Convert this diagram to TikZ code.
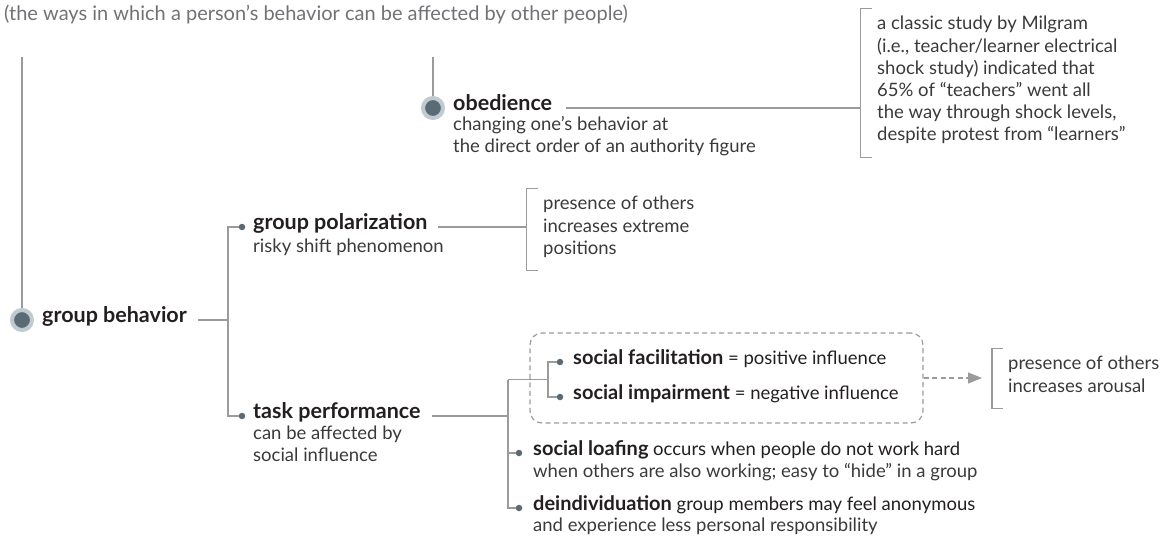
\documentclass[tikz,border=0pt]{standalone}
\usepackage{fontspec}
\setmainfont{Lato}
\usepackage{xcolor}
\usetikzlibrary{calc, positioning, arrows.meta}

\definecolor{lnk}{HTML}{9B9B9B}
\definecolor{ring}{HTML}{BFCAD1}
\definecolor{dotc}{HTML}{5B6B76}
\definecolor{ink}{HTML}{231F20}
\definecolor{body}{HTML}{3A3A3A}
\definecolor{ttlc}{HTML}{707276}

\newcommand{\topstrut}{\rule{0pt}{15pt}}
\newcommand{\botstrut}{\rule[-6pt]{0pt}{6pt}}
\newcommand{\bodyfont}{\fontsize{18.5}{22.2}\selectfont}
\newcommand{\headfont}{\fontsize{21.5}{24}\selectfont\bfseries}
\newcommand{\ttlfont}{\fontsize{20}{24}\selectfont}
\newcommand{\hb}[1]{{\fontsize{20}{22.2}\selectfont\bfseries #1}}

\begin{document}
\begin{tikzpicture}[
  x=1pt, y=-1pt,
  font=\bodyfont,
  title/.style={anchor=mid west, inner sep=0pt, text=ttlc, font=\ttlfont},
  head/.style={anchor=mid west, inner sep=0pt, text=ink, font=\headfont},
  item/.style={anchor=mid west, inner sep=0pt, text=ink},
  desc/.style={anchor=north west, inner sep=0pt, align=left, text=body},
  note/.style={anchor=north west, inner sep=0pt, align=left, text=body},
  link/.style={draw=lnk, line width=1.2pt},
  bigdot/.style={circle, draw=ring, line width=4pt, fill=dotc, minimum size=20pt, inner sep=0pt},
  smalldot/.style={circle, fill=dotc, minimum size=6.5pt, inner sep=0pt},
  grpbox/.style={draw=lnk, line width=1.2pt, dash pattern=on 5pt off 3.5pt, rounded corners=12pt,
    minimum width=393pt, minimum height=90pt, inner sep=0pt},
  darr/.style={draw=lnk, line width=1.2pt, dash pattern=on 5pt off 3.5pt,
    -{Triangle[length=14pt, width=11pt]}}
]
\useasboundingbox (0,0) rectangle (1169,547);

\node[title] (ttl) at (4,18) {(the ways in which a person’s behavior can be affected by other people)};

\node[head] (gb) at (42,320) {group behavior};
\node[head] (obd) at (453,108) {obedience};
\node[head] (gp) at (253,227) {group polarization};
\node[head] (tp) at (253,416) {task performance};
\node[item] (sf) at (573,362) {\hb{social facilitation} = positive influence};
\node[item] (si) at (573,397) {\hb{social impairment} = negative influence};
\node[item] (sl) at (533,453) {\hb{social loafing} occurs when people do not work hard};
\node[item] (di) at (533,508) {\hb{deindividuation} group members may feel anonymous};

\node[desc] (obdd) at ([yshift=-4.5pt]obd.base west) {\topstrut changing one’s behavior at\\the direct order of an authority figure};
\node[desc] (gpd) at ([yshift=-7.5pt]gp.base west) {\topstrut risky shift phenomenon};
\node[desc] (tpd) at ([yshift=-5.5pt]tp.base west) {\topstrut can be affected by\\social influence};
\node[desc] (sld) at ([yshift=-7pt]sl.base west) {\topstrut when others are also working; easy to “hide” in a group};
\node[desc] (did) at ([yshift=-6pt]di.base west) {\topstrut and experience less personal responsibility};

\node[note] (mil) at (877,14.7) {\topstrut a classic study by Milgram\\(i.e., teacher/learner electrical\\shock study) indicated that\\65\% of “teachers” went all\\the way through shock levels,\\despite protest from “learners”\botstrut};
\node[note] (pol) at (543,194.7) {\topstrut presence of others\\increases extreme\\positions\botstrut};
\node[note] (aro) at (1008,354.7) {\topstrut presence of others\\increases arousal\botstrut};

\node[bigdot] (gbdot) at ([xshift=-20pt]gb.mid west) {};
\node[bigdot] (obddot) at ([xshift=-20pt]obd.mid west) {};
\node[smalldot] (gpdot) at ([xshift=-11pt]gp.mid west) {};
\node[smalldot] (tpdot) at ([xshift=-11pt]tp.mid west) {};
\node[smalldot] (sfdot) at ([xshift=-13pt]sf.mid west) {};
\node[smalldot] (sidot) at ([xshift=-13pt]si.mid west) {};
\node[smalldot] (sldot) at ([xshift=-14pt]sl.mid west) {};
\node[smalldot] (didot) at ([xshift=-14pt]di.mid west) {};

\node[grpbox] (grp) at (726.5,378) {};

\coordinate (rt) at (22,57);
\coordinate (obt) at (433,57);
\coordinate (gbj) at ([xshift=-14pt]gpdot.center);
\coordinate (tpj) at ([xshift=-11pt]sldot.center);
\coordinate (sfj) at ([xshift=-12pt]sfdot.center);
\coordinate (fork) at ($(sfdot)!0.5!(sidot)$);
\coordinate (mil-b) at ([xshift=-16.5pt]mil.west);
\coordinate (pol-b) at ([xshift=-16.5pt]pol.west);
\coordinate (aro-b) at ([xshift=-16pt]aro.west);

\draw[link] ([xshift=-5pt,yshift=6pt]mil.north west) -| (mil-b) |- ([xshift=-5pt,yshift=-10pt]mil.south west);
\draw[link] ([xshift=-5pt,yshift=6pt]pol.north west) -| (pol-b) |- ([xshift=-5pt,yshift=-10pt]pol.south west);
\draw[link] ([xshift=-5pt,yshift=6pt]aro.north west) -| (aro-b) |- ([xshift=-5pt,yshift=-10pt]aro.south west);

\draw[link] (rt) -- (gbdot);
\draw[link] (obt) -- (obddot);
\draw[link] ([xshift=14pt]obd.mid east) -- (obd.mid east -| mil-b);
\draw[link] ([xshift=10pt]gp.mid east) -- (gp.mid east -| pol-b);

\draw[link] ([xshift=11pt]gb.mid east) -- (gb.mid east -| gbj);
\draw[link] (gpdot) -| (gbj |- tpdot) -- (tpdot);

\draw[link] ([xshift=11pt]tp.mid east) -- (tp.mid east -| tpj);
\draw[link] (tpj |- fork) -- (sfj |- fork);
\draw[link] (sfdot) -| (sfj |- sidot) -- (sidot);
\draw[link] (tpj |- fork) |- (sldot);
\draw[link] (tpj |- fork) |- (didot);

\draw[darr] (grp.east) -- ([xshift=-10pt]grp.east -| aro-b);

\end{tikzpicture}
\end{document}
